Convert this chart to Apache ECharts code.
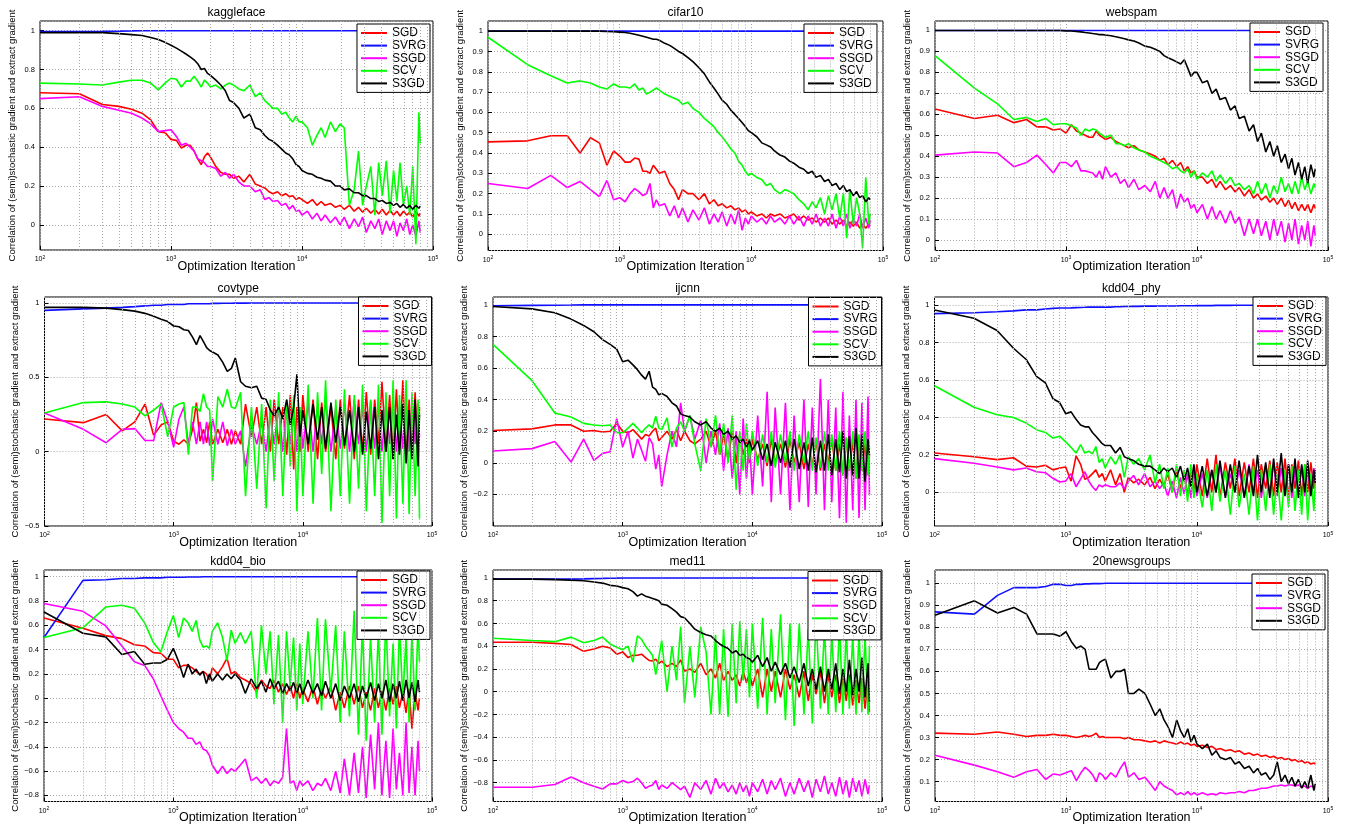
<!DOCTYPE html>
<html><head><meta charset="utf-8">
<script src="https://cdn.jsdelivr.net/npm/echarts@6/dist/echarts.min.js"></script>
<style>html,body{margin:0;padding:0;background:#fff}#c{width:1345px;height:825px}</style>
</head><body><div id="c"></div><script>
// ---------------- DATA ----------------
const ITER = [100,200,300,400,500,600,700,800,900,
 1000,1100,1200,1300,1400,1500,1600,1700,1800,1900,
 2000,2200,2400,2600,2800,3000,3300,3600,4000,4400,4800,
 5200,5600,6000,6500,7000,7500,8000,8500,9000,9500,
 10000,11000,12000,13000,14000,15000,16500,18000,19500,
 21000,23000,25000,27000,29000,31000,33500,36000,38500,
 41000,44000,47000,50000,53000,56000,59500,63000,66500,70000,74000,78000,80000];

const DATASETS = ['kaggleface','cifar10','webspam','covtype','ijcnn','kdd04_phy','kdd04_bio','med11','20newsgroups'];
const METHODS = ['SGD','SVRG','SSGD','SCV','S3GD'];
const X_TICK_EXPONENTS = [2,3,4,5];
const X_MINOR_TICKS = [200,300,400,500,600,700,800,900,2000,3000,4000,5000,6000,7000,8000,9000,20000,30000,40000,50000,60000,70000,80000,90000];
const Y_AXIS_TITLE = 'Correlation of (semi)stochastic gradient and extract gradient';
const X_AXIS_TITLE = 'Optimization Iteration';

// kaggleface
const kaggleface_SGD = [0.68,0.675,0.62,0.61,0.595,0.575,0.54,0.48,0.475,
 0.44,0.435,0.395,0.41,0.41,0.38,0.34,0.31,0.35,0.37,
 0.35,0.30,0.27,0.26,0.26,0.24,0.25,0.22,0.26,0.21,0.20,
 0.19,0.17,0.16,0.17,0.15,0.16,0.145,0.15,0.13,0.14,
 0.13,0.11,0.13,0.10,0.12,0.10,0.11,0.09,0.10,
 0.08,0.10,0.07,0.09,0.065,0.085,0.06,0.08,0.055,
 0.08,0.05,0.075,0.05,0.07,0.045,0.07,0.05,0.065,0.04,0.07,0.045,0.06];
const kaggleface_SVRG = [0.995,0.996,0.997,0.998,0.999,1,1,1,1,
 1,1,1,1,1,1,1,1,1,1,
 1,1,1,1,1,1,1,1,1,1,1,
 1,1,1,1,1,1,1,1,1,1,
 1,1,1,1,1,1,1,1,1,
 1,1,1,1,1,1,1,1,1,
 1,1,1,1,1,1,1,1,1,1,1,1,1];
const kaggleface_SSGD = [0.65,0.66,0.61,0.59,0.575,0.55,0.52,0.48,0.485,
 0.49,0.455,0.41,0.42,0.40,0.38,0.34,0.33,0.32,0.30,
 0.30,0.29,0.25,0.27,0.24,0.26,0.22,0.20,0.20,0.17,0.18,
 0.13,0.14,0.12,0.125,0.10,0.11,0.08,0.10,0.07,0.075,
 0.05,0.07,0.03,0.06,0.02,0.05,0.01,0.04,0.00,
 0.04,-0.02,0.03,-0.01,0.04,-0.04,0.02,-0.02,0.03,
 -0.05,0.02,-0.03,0.02,-0.06,0.01,-0.03,0.03,-0.05,0.00,-0.06,0.02,-0.04];
const kaggleface_SCV = [0.73,0.725,0.72,0.735,0.745,0.745,0.73,0.695,0.73,
 0.755,0.75,0.71,0.74,0.74,0.765,0.74,0.71,0.745,0.73,
 0.71,0.72,0.70,0.72,0.73,0.72,0.70,0.69,0.72,0.66,0.68,
 0.64,0.62,0.60,0.60,0.57,0.58,0.55,0.53,0.56,0.53,
 0.53,0.50,0.41,0.46,0.50,0.45,0.53,0.48,0.52,
 0.50,0.10,0.18,0.38,0.10,0.20,0.30,0.05,0.32,
 0.15,0.33,0.06,0.28,0.12,0.32,0.10,0.20,0.05,0.30,-0.10,0.58,0.42];
const kaggleface_S3GD = [0.99,0.99,0.99,0.985,0.98,0.975,0.965,0.955,0.94,
 0.925,0.91,0.895,0.88,0.865,0.85,0.83,0.80,0.805,0.78,
 0.77,0.745,0.72,0.69,0.64,0.63,0.60,0.55,0.57,0.50,0.49,
 0.46,0.44,0.43,0.41,0.39,0.37,0.36,0.34,0.31,0.30,
 0.28,0.265,0.26,0.245,0.24,0.23,0.225,0.20,0.20,
 0.18,0.185,0.165,0.165,0.15,0.15,0.135,0.135,0.12,
 0.125,0.11,0.115,0.10,0.11,0.09,0.105,0.085,0.10,0.08,0.10,0.085,0.095];

// cifar10
const cifar10_SGD = [0.455,0.46,0.485,0.485,0.40,0.475,0.45,0.34,0.41,
 0.385,0.355,0.355,0.375,0.37,0.31,0.31,0.30,0.34,0.32,
 0.30,0.31,0.25,0.22,0.17,0.22,0.20,0.20,0.17,0.20,0.15,
 0.17,0.14,0.15,0.13,0.14,0.12,0.13,0.11,0.12,0.10,
 0.11,0.09,0.10,0.08,0.10,0.09,0.10,0.08,0.09,
 0.10,0.07,0.09,0.07,0.08,0.06,0.08,0.06,0.08,
 0.05,0.07,0.05,0.07,0.04,0.06,0.04,0.06,0.03,0.05,0.03,0.05,0.04];
const cifar10_SVRG = [1,1,1,1,1,1,1,1,1,
 1,1,1,1,1,1,1,1,1,1,
 1,1,1,1,1,1,1,1,1,1,1,
 1,1,1,1,1,1,1,1,1,1,
 1,1,1,1,1,1,1,1,1,
 1,1,1,1,1,1,1,1,1,
 1,1,1,1,1,1,1,1,1,1,1,1,1];
const cifar10_SSGD = [0.25,0.225,0.29,0.23,0.26,0.22,0.185,0.265,0.17,
 0.18,0.16,0.20,0.225,0.21,0.19,0.20,0.25,0.13,0.17,
 0.14,0.15,0.09,0.14,0.08,0.13,0.06,0.12,0.07,0.13,0.05,
 0.10,0.06,0.11,0.04,0.10,0.05,0.12,0.02,0.08,0.05,
 0.09,0.06,0.08,0.05,0.09,0.06,0.08,0.05,0.09,
 0.05,0.09,0.04,0.09,0.05,0.10,0.04,0.08,0.04,
 0.10,0.03,0.09,0.04,0.10,0.03,0.08,0.04,0.10,0.03,0.08,0.03,0.07];
const cifar10_SCV = [0.97,0.835,0.78,0.745,0.755,0.745,0.725,0.715,0.74,
 0.725,0.725,0.72,0.74,0.71,0.72,0.69,0.70,0.71,0.72,
 0.71,0.69,0.68,0.67,0.66,0.64,0.65,0.62,0.60,0.57,0.55,
 0.53,0.50,0.48,0.45,0.42,0.40,0.36,0.34,0.31,0.29,
 0.30,0.28,0.27,0.24,0.25,0.22,0.20,0.22,0.21,
 0.20,0.17,0.15,0.12,0.16,0.13,0.18,0.10,0.19,
 0.12,0.20,0.08,0.20,-0.02,0.22,0.05,0.18,0.10,-0.07,0.28,0.05,0.10];
const cifar10_S3GD = [1,1,1,1,1,1,1,0.998,0.997,
 0.995,0.993,0.99,0.985,0.98,0.975,0.97,0.965,0.96,0.96,
 0.955,0.94,0.93,0.915,0.90,0.89,0.87,0.85,0.82,0.79,0.75,
 0.72,0.69,0.66,0.64,0.61,0.59,0.57,0.55,0.53,0.51,
 0.50,0.48,0.45,0.44,0.43,0.41,0.39,0.38,0.36,
 0.35,0.33,0.32,0.30,0.31,0.28,0.29,0.26,0.27,
 0.24,0.25,0.22,0.24,0.21,0.22,0.19,0.21,0.18,0.19,0.16,0.18,0.17];

// webspam
const webspam_SGD = [0.625,0.58,0.595,0.56,0.575,0.54,0.54,0.525,0.53,
 0.51,0.55,0.52,0.51,0.50,0.49,0.49,0.52,0.50,0.49,
 0.48,0.49,0.47,0.46,0.45,0.44,0.45,0.43,0.42,0.41,0.40,
 0.38,0.39,0.36,0.38,0.35,0.37,0.33,0.35,0.32,0.33,
 0.30,0.30,0.27,0.29,0.25,0.28,0.24,0.26,0.23,
 0.25,0.21,0.24,0.20,0.22,0.19,0.21,0.18,0.20,
 0.17,0.20,0.16,0.19,0.15,0.18,0.14,0.17,0.14,0.17,0.13,0.17,0.15];
const webspam_SVRG = [1,1,1,1,1,1,1,1,1,
 1,1,1,1,1,1,1,1,1,1,
 1,1,1,1,1,1,1,1,1,1,1,
 1,1,1,1,1,1,1,1,1,1,
 1,1,1,1,1,1,1,1,1,
 1,1,1,1,1,1,1,1,1,
 1,1,1,1,1,1,1,1,1,1,1,1,1];
const webspam_SSGD = [0.405,0.42,0.415,0.35,0.37,0.405,0.36,0.32,0.37,
 0.37,0.35,0.38,0.33,0.33,0.325,0.32,0.30,0.33,0.29,
 0.35,0.30,0.32,0.27,0.29,0.25,0.29,0.24,0.26,0.23,0.28,
 0.20,0.25,0.20,0.24,0.15,0.22,0.18,0.20,0.15,0.17,
 0.13,0.17,0.10,0.16,0.10,0.14,0.08,0.14,0.08,
 0.11,0.02,0.10,0.03,0.10,0.02,0.09,0.00,0.10,
 0.02,0.09,-0.01,0.08,0.00,0.10,-0.02,0.07,0.00,0.09,-0.03,0.07,0.02];
const webspam_SCV = [0.88,0.725,0.65,0.575,0.585,0.565,0.58,0.55,0.555,
 0.555,0.545,0.535,0.50,0.53,0.52,0.53,0.525,0.51,0.50,
 0.49,0.50,0.46,0.46,0.45,0.46,0.44,0.43,0.42,0.40,0.39,
 0.38,0.37,0.36,0.34,0.35,0.33,0.32,0.34,0.30,0.33,
 0.29,0.32,0.30,0.33,0.28,0.31,0.27,0.30,0.26,
 0.27,0.24,0.26,0.22,0.28,0.22,0.27,0.20,0.26,
 0.22,0.30,0.23,0.27,0.22,0.28,0.22,0.30,0.24,0.28,0.22,0.27,0.25];
const webspam_S3GD = [1,1,1,1,1,1,1,1,1,
 0.998,0.997,0.995,0.993,0.99,0.988,0.985,0.983,0.98,0.98,
 0.978,0.975,0.97,0.965,0.96,0.955,0.95,0.94,0.925,0.92,0.91,
 0.90,0.88,0.87,0.86,0.85,0.84,0.86,0.82,0.78,0.80,
 0.80,0.75,0.76,0.70,0.72,0.67,0.68,0.62,0.64,
 0.58,0.59,0.52,0.55,0.47,0.51,0.42,0.47,0.40,
 0.45,0.37,0.41,0.34,0.39,0.31,0.37,0.29,0.35,0.27,0.36,0.30,0.34];

// covtype
const covtype_SGD = [0.22,0.195,0.25,0.14,0.20,0.32,0.11,0.18,0.20,
 0.07,0.05,0.08,0.05,0.15,0.33,0.07,0.15,0.06,0.20,
 0.05,0.15,0.06,0.15,0.05,0.14,0.05,0.32,0.10,0.30,0.05,
 0.30,0.00,0.35,0.05,0.30,-0.02,0.38,-0.12,0.30,0.00,
 0.38,0.00,0.35,-0.05,0.33,0.00,0.30,-0.05,0.35,
 0.02,0.38,-0.05,0.35,0.00,0.40,-0.02,0.35,0.05,
 0.47,0.00,0.38,-0.05,0.42,0.02,0.48,-0.05,0.35,0.00,0.40,-0.05,0.30];
const covtype_SVRG = [0.95,0.96,0.965,0.97,0.975,0.98,0.985,0.985,0.99,
 0.99,0.99,0.99,0.995,0.995,0.995,0.995,0.995,0.995,0.995,
 0.997,0.997,0.998,0.998,0.998,0.999,0.999,0.999,1,1,1,
 1,1,1,1,1,1,1,1,1,1,
 1,1,1,1,1,1,1,1,1,
 1,1,1,1,1,1,1,1,1,
 1,1,1,1,1,1,1,1,1,1,1,1,1];
const covtype_SSGD = [0.26,0.15,0.06,0.15,0.155,0.075,0.075,0.33,0.20,
 0.03,0.22,0.30,0.05,0.20,0.05,0.20,0.05,0.20,0.04,
 0.22,0.05,0.20,0.04,0.15,0.05,0.14,-0.10,0.18,0.05,0.20,
 0.00,0.25,0.05,0.30,0.00,0.30,0.05,0.25,0.00,0.28,
 0.02,0.33,0.00,0.30,0.05,0.35,0.00,0.30,0.02,
 0.32,0.00,0.35,0.05,0.30,0.00,0.34,0.02,0.30,
 0.00,0.33,0.05,0.35,0.00,0.30,0.02,0.38,0.00,0.30,0.05,0.32,0.10];
const covtype_SCV = [0.26,0.33,0.335,0.32,0.30,0.24,0.28,0.32,0.10,
 0.30,0.32,0.33,-0.02,0.30,0.30,0.27,0.39,0.30,0.28,
 -0.20,0.37,0.30,0.42,0.30,0.29,0.40,-0.30,0.30,-0.25,0.32,
 -0.38,0.35,-0.20,0.40,-0.30,0.35,-0.10,0.38,-0.40,0.30,
 -0.30,0.45,-0.35,0.40,-0.15,0.48,-0.40,0.35,-0.30,
 0.42,-0.35,0.38,-0.25,0.45,-0.40,0.35,-0.30,0.45,
 -0.48,0.40,-0.30,0.48,-0.45,0.38,-0.35,0.48,-0.42,0.40,-0.30,0.35,-0.45];
const covtype_S3GD = [0.97,0.97,0.965,0.955,0.945,0.93,0.91,0.89,0.875,
 0.845,0.84,0.82,0.815,0.77,0.72,0.78,0.74,0.70,0.68,
 0.67,0.65,0.60,0.54,0.56,0.63,0.47,0.44,0.43,0.44,0.36,
 0.35,0.28,0.24,0.30,0.22,0.35,0.18,0.30,0.52,0.10,
 0.28,0.05,0.32,0.08,0.30,0.02,0.33,0.06,0.30,
 0.04,0.28,0.00,0.30,-0.02,0.27,0.02,0.30,-0.05,
 0.28,0.00,0.30,-0.05,0.25,-0.02,0.32,-0.08,0.28,-0.05,0.35,-0.10,0.25];

// ijcnn
const ijcnn_SGD = [0.205,0.215,0.24,0.24,0.20,0.205,0.195,0.20,0.25,
 0.20,0.19,0.21,0.18,0.15,0.18,0.17,0.20,0.22,0.14,
 0.16,0.20,0.15,0.21,0.14,0.20,0.14,0.12,0.15,0.20,0.10,
 0.20,0.05,0.18,0.02,0.20,0.00,0.18,0.05,0.15,0.00,
 0.15,0.02,0.12,-0.02,0.15,0.00,0.12,-0.03,0.15,
 0.00,0.13,-0.04,0.12,-0.02,0.14,-0.05,0.12,0.00,
 0.15,-0.05,0.12,-0.08,0.16,-0.05,0.14,-0.10,0.15,-0.05,0.12,-0.08,0.05];
const ijcnn_SVRG = [0.995,0.997,0.998,0.999,1,1,1,1,1,
 1,1,1,1,1,1,1,1,1,1,
 1,1,1,1,1,1,1,1,1,1,1,
 1,1,1,1,1,1,1,1,1,1,
 1,1,1,1,1,1,1,1,1,
 1,1,1,1,1,1,1,1,1,
 1,1,1,1,1,1,1,1,1,1,1,1,1];
const ijcnn_SSGD = [0.075,0.09,0.135,0.005,0.15,0.015,0.06,0.07,0.28,
 0.10,0.20,0.03,0.15,0.08,0.01,0.16,0.12,-0.04,0.05,
 -0.15,0.05,0.20,0.10,0.38,0.20,0.30,0.15,0.27,0.00,0.20,
 0.05,0.25,-0.05,0.22,-0.10,0.20,-0.20,0.28,-0.10,0.15,
 -0.20,0.30,-0.15,0.45,-0.25,0.35,-0.20,0.38,-0.30,
 0.30,-0.25,0.40,-0.28,0.35,-0.20,0.53,-0.30,0.40,
 -0.25,0.35,-0.35,0.45,-0.38,0.30,-0.30,0.40,-0.35,0.38,-0.30,0.42,-0.20];
const ijcnn_SCV = [0.75,0.52,0.315,0.29,0.25,0.24,0.235,0.24,0.19,
 0.19,0.22,0.25,0.22,0.19,0.22,0.24,0.22,0.295,0.22,
 0.21,0.285,0.10,0.22,0.26,0.20,0.30,0.12,-0.05,0.28,0.10,
 0.30,0.05,0.25,0.00,0.30,-0.17,0.20,-0.05,0.25,0.02,
 0.20,-0.02,0.18,0.00,0.20,-0.03,0.18,0.00,0.20,
 -0.05,0.18,0.00,0.20,-0.05,0.16,-0.03,0.20,-0.05,
 0.18,-0.05,0.20,-0.08,0.16,-0.05,0.20,-0.10,0.18,-0.05,0.20,-0.08,0.10];
const ijcnn_S3GD = [0.99,0.975,0.95,0.91,0.87,0.83,0.78,0.75,0.72,
 0.64,0.65,0.62,0.59,0.555,0.53,0.58,0.48,0.465,0.43,
 0.44,0.42,0.38,0.36,0.31,0.30,0.29,0.26,0.24,0.26,0.22,
 0.20,0.22,0.18,0.20,0.15,0.17,0.13,0.15,0.10,0.14,
 0.08,0.14,0.02,0.12,-0.02,0.13,0.00,0.14,-0.03,
 0.15,-0.04,0.13,-0.05,0.16,-0.06,0.14,-0.05,0.18,
 -0.08,0.15,-0.06,0.20,-0.10,0.17,-0.08,0.22,-0.10,0.18,-0.12,0.15,0.05];

// kdd04_phy
const kdd04_phy_SGD = [0.21,0.19,0.175,0.185,0.14,0.135,0.145,0.12,0.13,
 0.135,0.06,0.195,0.15,0.07,0.08,0.10,0.12,0.08,0.10,
 0.06,0.12,0.04,0.10,0.00,0.08,0.05,0.07,0.04,0.08,0.02,
 0.07,0.03,0.10,0.00,0.12,0.02,0.10,-0.02,0.12,0.00,
 0.15,-0.02,0.18,0.00,0.20,-0.03,0.16,0.02,0.18,
 -0.02,0.16,0.00,0.18,-0.03,0.15,0.02,0.17,-0.02,
 0.16,0.00,0.18,-0.03,0.15,0.02,0.17,-0.02,0.15,0.00,0.16,0.02,0.12];
const kdd04_phy_SVRG = [0.955,0.96,0.965,0.97,0.975,0.975,0.98,0.983,0.985,
 0.985,0.986,0.987,0.988,0.989,0.99,0.99,0.99,0.99,0.99,
 0.99,0.99,0.992,0.992,0.993,0.993,0.994,0.994,0.995,0.995,0.995,
 0.996,0.996,0.996,0.996,0.996,0.997,0.997,0.997,0.997,0.997,
 0.998,0.998,0.998,0.998,0.999,0.999,0.999,0.999,1,
 1,1,1,1,1,1,1,1,1,
 1,1,1,1,1,1,1,1,1,1,1,1,1];
const kdd04_phy_SSGD = [0.18,0.155,0.135,0.12,0.13,0.11,0.105,0.075,0.055,
 0.06,0.10,0.03,0.07,0.11,0.06,0.03,0.01,0.04,0.03,
 0.04,0.03,0.03,0.05,0.02,0.06,0.09,0.04,0.10,0.03,0.06,
 0.02,0.05,-0.02,0.06,-0.03,0.08,-0.01,0.10,-0.03,0.12,
 -0.02,0.10,-0.03,0.12,0.00,0.14,-0.02,0.10,0.00,
 0.12,-0.02,0.15,0.00,0.12,-0.03,0.14,0.00,0.16,
 -0.02,0.13,0.00,0.15,-0.03,0.12,0.00,0.14,-0.02,0.12,0.00,0.13,0.05];
const kdd04_phy_SCV = [0.57,0.455,0.415,0.40,0.37,0.335,0.32,0.29,0.30,
 0.27,0.24,0.21,0.255,0.21,0.22,0.205,0.245,0.16,0.18,
 0.13,0.19,0.15,0.20,0.08,0.19,0.15,0.18,0.12,0.20,0.05,
 0.15,0.02,0.13,0.00,0.15,-0.02,0.12,-0.05,0.15,-0.03,
 0.10,-0.08,0.12,-0.10,0.15,-0.05,0.12,-0.12,0.14,
 -0.08,0.10,-0.12,0.14,-0.15,0.12,-0.10,0.15,-0.12,
 0.10,-0.15,0.12,-0.08,0.14,-0.10,0.12,-0.12,0.15,-0.15,0.10,-0.10,0.05];
const kdd04_phy_S3GD = [0.975,0.93,0.865,0.77,0.71,0.62,0.585,0.50,0.48,
 0.42,0.43,0.39,0.36,0.35,0.35,0.32,0.30,0.28,0.26,
 0.25,0.25,0.21,0.24,0.19,0.18,0.17,0.15,0.14,0.14,0.12,
 0.10,0.13,0.11,0.13,0.08,0.14,0.06,0.13,0.03,0.15,
 0.00,0.14,-0.02,0.12,0.00,0.17,-0.03,0.15,0.00,
 0.17,-0.03,0.14,-0.02,0.20,0.00,0.16,-0.03,0.18,
 0.00,0.21,-0.02,0.15,0.00,0.18,-0.03,0.15,0.00,0.17,-0.02,0.12,0.05];

// kdd04_bio
const kdd04_bio_SGD = [0.66,0.575,0.515,0.49,0.44,0.43,0.375,0.37,0.32,
 0.32,0.25,0.27,0.27,0.25,0.22,0.20,0.22,0.20,0.15,
 0.25,0.20,0.26,0.33,0.20,0.22,0.17,0.15,0.12,0.05,0.15,
 0.10,0.08,0.15,0.05,0.12,0.03,0.10,0.00,0.12,0.00,
 0.08,-0.03,0.10,-0.05,0.08,0.00,0.10,-0.10,0.05,
 -0.08,0.10,-0.05,0.10,-0.08,0.05,-0.10,0.08,-0.08,
 0.06,-0.10,0.08,-0.05,0.10,-0.08,0.05,-0.12,0.08,-0.25,0.05,-0.10,0.00];
const kdd04_bio_SVRG = [0.50,0.97,0.975,0.985,0.985,0.99,0.99,0.99,0.995,
 0.995,0.995,0.995,0.997,0.997,0.998,0.998,0.999,0.999,1,
 1,1,1,1,1,1,1,1,1,1,1,
 1,1,1,1,1,1,1,1,1,1,
 1,1,1,1,1,1,1,1,1,
 1,1,1,1,1,1,1,1,1,
 1,1,1,1,1,1,1,1,1,1,1,1,1];
const kdd04_bio_SSGD = [0.78,0.715,0.595,0.43,0.30,0.27,0.16,0.02,-0.10,
 -0.20,-0.25,-0.28,-0.33,-0.33,-0.38,-0.36,-0.42,-0.43,-0.47,
 -0.55,-0.62,-0.56,-0.62,-0.58,-0.60,-0.55,-0.50,-0.68,-0.65,-0.70,
 -0.66,-0.72,-0.68,-0.70,-0.65,-0.25,-0.70,-0.68,-0.76,-0.68,
 -0.72,-0.68,-0.76,-0.70,-0.72,-0.66,-0.76,-0.60,-0.78,
 -0.50,-0.80,-0.45,-0.78,-0.40,-0.82,-0.30,-0.75,-0.20,
 -0.80,-0.35,-0.82,-0.25,-0.75,-0.45,-0.80,-0.20,-0.78,-0.40,-0.80,-0.35,-0.60];
const kdd04_bio_SCV = [0.50,0.58,0.75,0.765,0.74,0.62,0.46,0.38,0.55,
 0.68,0.50,0.66,0.62,0.55,0.64,0.48,0.42,0.43,0.41,
 0.55,0.62,0.50,0.31,0.56,0.45,0.54,0.45,0.55,0.00,0.60,
 0.20,0.55,-0.05,0.52,-0.20,0.55,0.10,0.50,-0.10,0.45,
 -0.05,0.55,0.00,0.66,-0.10,0.65,0.05,0.60,-0.20,
 0.55,-0.15,0.72,-0.30,0.60,-0.35,0.50,-0.20,0.55,
 -0.30,0.65,-0.15,0.45,-0.25,0.60,0.00,0.50,-0.20,0.55,-0.10,0.60,0.30];
const kdd04_bio_S3GD = [0.71,0.535,0.505,0.36,0.385,0.28,0.29,0.29,0.32,
 0.41,0.30,0.17,0.28,0.20,0.24,0.19,0.22,0.12,0.20,
 0.14,0.20,0.15,0.20,0.16,0.20,0.15,0.04,0.16,0.08,0.14,
 0.05,0.16,0.08,0.14,0.04,0.12,0.06,0.13,0.04,0.12,
 0.03,0.15,0.04,0.12,0.02,0.14,0.00,0.12,-0.02,
 0.10,0.00,0.12,-0.03,0.10,0.00,0.13,-0.02,0.12,
 0.00,0.15,-0.03,0.12,0.00,0.14,-0.02,0.15,0.00,0.13,-0.03,0.15,0.05];

// med11
const med11_SGD = [0.435,0.435,0.425,0.415,0.355,0.375,0.40,0.385,0.33,
 0.35,0.30,0.32,0.32,0.33,0.30,0.275,0.27,0.285,0.25,
 0.27,0.22,0.25,0.22,0.28,0.18,0.20,0.17,0.25,0.15,0.20,
 0.12,0.25,0.10,0.18,0.10,0.15,0.05,0.18,0.08,0.16,
 0.05,0.20,-0.05,0.20,0.00,0.18,-0.05,0.20,0.02,
 0.15,-0.05,0.18,-0.08,0.15,-0.02,0.18,-0.10,0.15,
 -0.05,0.15,-0.10,0.12,-0.08,0.15,-0.12,0.10,-0.10,0.12,-0.15,0.10,-0.18];
const med11_SVRG = [0.99,0.99,0.99,0.99,0.992,0.994,0.996,0.998,0.999,
 1,1,1,1,1,1,1,1,1,1,
 1,1,1,1,1,1,1,1,1,1,1,
 1,1,1,1,1,1,1,1,1,1,
 1,1,1,1,1,1,1,1,1,
 1,1,1,1,1,1,1,1,1,
 1,1,1,1,1,1,1,1,1,1,1,1,1];
const med11_SSGD = [-0.84,-0.84,-0.815,-0.75,-0.80,-0.83,-0.855,-0.81,-0.81,
 -0.78,-0.80,-0.79,-0.76,-0.80,-0.85,-0.83,-0.82,-0.78,-0.86,
 -0.82,-0.85,-0.80,-0.83,-0.86,-0.83,-0.93,-0.80,-0.86,-0.78,-0.90,
 -0.76,-0.85,-0.80,-0.88,-0.82,-0.90,-0.80,-0.88,-0.82,-0.92,
 -0.80,-0.88,-0.77,-0.90,-0.78,-0.86,-0.76,-0.92,-0.80,
 -0.90,-0.76,-0.88,-0.78,-0.93,-0.77,-0.88,-0.74,-0.90,
 -0.80,-0.92,-0.75,-0.90,-0.78,-0.93,-0.76,-0.88,-0.78,-0.92,-0.77,-0.90,-0.82];
const med11_SCV = [0.47,0.45,0.44,0.48,0.43,0.45,0.48,0.42,0.39,
 0.37,0.40,0.26,0.49,0.46,0.40,0.36,0.32,0.15,0.30,
 0.45,0.00,0.40,0.10,0.57,-0.10,0.40,-0.05,0.57,0.35,-0.20,
 0.50,-0.20,0.55,-0.22,0.60,-0.10,0.62,0.10,0.55,-0.05,
 0.60,-0.15,0.65,-0.20,0.55,-0.10,0.68,-0.25,0.60,
 -0.30,0.60,-0.20,0.55,-0.28,0.65,-0.15,0.55,-0.20,
 0.50,-0.18,0.60,-0.20,0.55,-0.15,0.50,-0.20,0.55,-0.18,0.50,-0.20,0.40];
const med11_S3GD = [0.99,0.99,0.985,0.98,0.975,0.965,0.955,0.935,0.93,
 0.915,0.905,0.88,0.84,0.86,0.84,0.83,0.82,0.81,0.80,
 0.77,0.76,0.73,0.70,0.66,0.65,0.60,0.55,0.52,0.50,0.49,
 0.45,0.42,0.40,0.38,0.34,0.36,0.32,0.33,0.30,0.29,
 0.26,0.32,0.22,0.30,0.18,0.26,0.15,0.25,0.12,
 0.22,0.08,0.25,0.05,0.20,0.02,0.22,0.00,0.20,
 0.02,0.25,-0.02,0.20,0.00,0.28,-0.03,0.20,0.00,0.30,-0.05,0.25,-0.09];

// 20newsgroups (no SCV)
const news20_SGD = [0.32,0.315,0.325,0.315,0.305,0.31,0.31,0.315,0.31,
 0.31,0.305,0.30,0.305,0.31,0.305,0.31,0.32,0.30,0.305,
 0.30,0.30,0.30,0.30,0.295,0.30,0.29,0.29,0.285,0.28,0.285,
 0.275,0.285,0.28,0.275,0.27,0.28,0.27,0.275,0.265,0.27,
 0.26,0.265,0.255,0.26,0.245,0.25,0.24,0.245,0.235,
 0.24,0.225,0.23,0.22,0.225,0.215,0.22,0.21,0.215,
 0.205,0.21,0.20,0.205,0.195,0.20,0.19,0.195,0.185,0.19,0.18,0.185,0.18];
const news20_SVRG = [0.87,0.86,0.945,0.98,0.98,0.98,0.985,0.995,0.995,
 0.99,0.99,0.995,0.995,0.997,0.997,0.998,0.998,0.998,0.999,
 1,1,1,1,1,1,1,1,1,1,1,
 1,1,1,1,1,1,1,1,1,1,
 1,1,1,1,1,1,1,1,1,
 1,1,1,1,1,1,1,1,1,
 1,1,1,1,1,1,1,1,1,1,1,1,1];
const news20_SSGD = [0.22,0.175,0.145,0.12,0.145,0.155,0.11,0.135,0.13,
 0.14,0.15,0.105,0.14,0.165,0.15,0.13,0.10,0.14,0.13,
 0.11,0.14,0.12,0.16,0.19,0.12,0.14,0.11,0.12,0.09,0.06,
 0.10,0.08,0.07,0.06,0.04,0.05,0.04,0.055,0.04,0.05,
 0.04,0.05,0.04,0.045,0.04,0.05,0.045,0.05,0.05,
 0.055,0.05,0.06,0.06,0.065,0.07,0.07,0.075,0.08,
 0.08,0.085,0.08,0.085,0.085,0.08,0.085,0.075,0.08,0.07,0.08,0.075,0.08];
const news20_S3GD = [0.855,0.92,0.865,0.89,0.86,0.77,0.77,0.77,0.76,
 0.78,0.735,0.705,0.715,0.70,0.61,0.61,0.61,0.64,0.65,
 0.655,0.57,0.60,0.60,0.61,0.50,0.50,0.52,0.50,0.45,0.40,
 0.43,0.38,0.35,0.30,0.38,0.33,0.30,0.34,0.28,0.31,
 0.27,0.25,0.27,0.22,0.24,0.21,0.20,0.21,0.18,
 0.19,0.16,0.17,0.14,0.16,0.13,0.14,0.11,0.13,
 0.19,0.10,0.13,0.09,0.12,0.08,0.11,0.07,0.10,0.07,0.13,0.06,0.09];

// y-axis ranges
const Y_RANGES = [[-0.13,1.05],[-0.08,1.05],[-0.05,1.045],[-0.5,1.04],[-0.4,1.05],[-0.18,1.044],[-0.85,1.055],[-0.965,1.07],[0.01,1.06]];
const Y_SPLITS = [5,10,10,3,7,6,10,10,10];

const SERIES_BY_DATASET = [
 {SGD:kaggleface_SGD, SVRG:kaggleface_SVRG, SSGD:kaggleface_SSGD, SCV:kaggleface_SCV, S3GD:kaggleface_S3GD},
 {SGD:cifar10_SGD, SVRG:cifar10_SVRG, SSGD:cifar10_SSGD, SCV:cifar10_SCV, S3GD:cifar10_S3GD},
 {SGD:webspam_SGD, SVRG:webspam_SVRG, SSGD:webspam_SSGD, SCV:webspam_SCV, S3GD:webspam_S3GD},
 {SGD:covtype_SGD, SVRG:covtype_SVRG, SSGD:covtype_SSGD, SCV:covtype_SCV, S3GD:covtype_S3GD},
 {SGD:ijcnn_SGD, SVRG:ijcnn_SVRG, SSGD:ijcnn_SSGD, SCV:ijcnn_SCV, S3GD:ijcnn_S3GD},
 {SGD:kdd04_phy_SGD, SVRG:kdd04_phy_SVRG, SSGD:kdd04_phy_SSGD, SCV:kdd04_phy_SCV, S3GD:kdd04_phy_S3GD},
 {SGD:kdd04_bio_SGD, SVRG:kdd04_bio_SVRG, SSGD:kdd04_bio_SSGD, SCV:kdd04_bio_SCV, S3GD:kdd04_bio_S3GD},
 {SGD:med11_SGD, SVRG:med11_SVRG, SSGD:med11_SSGD, SCV:med11_SCV, S3GD:med11_S3GD},
 {SGD:news20_SGD, SVRG:news20_SVRG, SSGD:news20_SSGD, S3GD:news20_S3GD}
];

// ---------------- LAYOUT / STYLE ----------------
const LAYOUT = [
 {l:40, t:21, r:433, b:250, lr:430, lt:24},
 {l:488, t:21, r:883, b:250.5, lr:877, lt:24},
 {l:935, t:21, r:1328, b:250.5, lr:1323, lt:23},
 {l:44.5, t:297, r:432, b:526, lr:431.5, lt:297},
 {l:493, t:297, r:882, b:526, lr:881.5, lt:297.5},
 {l:934.5, t:297, r:1328, b:526, lr:1326, lt:297},
 {l:44, t:570, r:432, b:801.5, lr:430, lt:571},
 {l:493, t:570, r:882, b:801.5, lr:881, lt:571.5},
 {l:935, t:570, r:1328, b:801.5, lr:1325, lt:574}
];
const SHOW_MIN_LABEL = [false,false,false,true,false,false,false,false,false];
const COLORS = {SGD:'#ff0000', SVRG:'#1010ff', SSGD:'#ff00ff', SCV:'#00ff00', S3GD:'#000000'};
const GRID_COLOR = '#a8a8a8';
const W = 1345;
const FONT = 'Liberation Sans, Arial, sans-serif';

const bad = [];
SERIES_BY_DATASET.forEach((d,i)=>Object.keys(d).forEach(m=>{ if(d[m].length!==ITER.length) bad.push(DATASETS[i]+'_'+m+':'+d[m].length); }));
if (bad.length) console.error('LENGTH MISMATCH', bad.join(' '));

const fmtY = v => { const s = String(+(+v).toFixed(3)); return s.replace('-', '\u2212'); };

const option = {
 animation:false,
 backgroundColor:'#fff',
 title: DATASETS.map((name,i)=>({
   text:name, left:(LAYOUT[i].l+LAYOUT[i].r)/2, top:LAYOUT[i].t-14, textAlign:'center', padding:0,
   textStyle:{fontSize:12, fontWeight:'normal', color:'#000', fontFamily:FONT}
 })),
 legend: DATASETS.map((name,i)=>({
   data: METHODS.filter(m=>SERIES_BY_DATASET[i][m]),
   orient:'vertical', right: W-LAYOUT[i].lr, top: LAYOUT[i].lt,
   backgroundColor:'#fff', borderColor:'#000', borderWidth:1, borderRadius:0,
   padding:[3,4,3,4], icon:'rect', itemWidth:26, itemHeight:2, itemGap:0.6,
   selectedMode:false,
   textStyle:{fontSize:12, lineHeight:11.2, color:'#000', fontFamily:FONT}
 })),
 grid: LAYOUT.map(L=>({left:L.l, top:L.t, width:L.r-L.l, height:L.b-L.t, show:true, borderColor:'#000', borderWidth:1, backgroundColor:'transparent', containLabel:false, outerBoundsMode:'none'})),
 xAxis: LAYOUT.map((L,i)=>({
   type:'log', logBase:10, min:100, max:100000, gridIndex:i,
   axisLine:{show:false, onZero:false},
   axisTick:{show:true, inside:true, length:4, lineStyle:{color:'#000'}},
   axisLabel:{color:'#000', fontSize:7, margin:5, fontFamily:FONT,
     formatter: v => { const e = Math.round(Math.log10(v)); return X_TICK_EXPONENTS.includes(e) ? '10{e|'+e+'}' : ''; },
     rich:{e:{fontSize:5, verticalAlign:'top', color:'#000', padding:[0,0,4,0]}}},
   splitLine:{show:true, lineStyle:{type:[1,2], color:GRID_COLOR, width:1}},
   name:X_AXIS_TITLE, nameLocation:'middle', nameGap:10, nameMoveOverlap:false,
   nameTextStyle:{fontSize:12.5, color:'#000', fontFamily:FONT}
 })),
 yAxis: LAYOUT.map((L,i)=>({
   type:'value', gridIndex:i, min:Y_RANGES[i][0], max:Y_RANGES[i][1], splitNumber:Y_SPLITS[i],
   axisLine:{show:false, onZero:false},
   axisTick:{show:true, inside:true, length:4, lineStyle:{color:'#000'}},
   axisLabel:{color:'#000', fontSize:7.5, margin:5, showMinLabel:SHOW_MIN_LABEL[i], showMaxLabel:false, formatter:fmtY, fontFamily:FONT},
   splitLine:{show:true, lineStyle:{type:[1,2], color:GRID_COLOR, width:1}},
   name:Y_AXIS_TITLE, nameLocation:'middle', nameGap:23,
   nameTextStyle:{fontSize:9.5, color:'#000', fontFamily:FONT}
 })),
 series: []
};

DATASETS.forEach((name,i)=>{
 option.series.push({
   type:'line', xAxisIndex:i, yAxisIndex:i, data:[], silent:true, z:1,
   markLine:{silent:true, symbol:['none','none'], label:{show:false}, animation:false,
     lineStyle:{type:[1,2], color:GRID_COLOR, width:1},
     emphasis:{disabled:true},
     data: X_MINOR_TICKS.map(v=>({xAxis:v}))}
 });
 METHODS.forEach(m=>{
   const arr = SERIES_BY_DATASET[i][m];
   if (!arr) return;
   const n = Math.min(arr.length, ITER.length);
   const data = [];
   for (let k=0;k<n;k++) data.push([ITER[k], arr[k]]);
   option.series.push({
     type:'line', name:m, xAxisIndex:i, yAxisIndex:i, data,
     symbol:'none', showSymbol:false, silent:true, z:2,
     color:COLORS[m], itemStyle:{color:COLORS[m]},
     lineStyle:{color:COLORS[m], width:1.6},
     emphasis:{disabled:true}, clip:true
   });
 });
});

const chart = echarts.init(document.getElementById('c'), null, {renderer:'canvas', width:1345, height:825});
chart.setOption(option);
</script></body></html>
